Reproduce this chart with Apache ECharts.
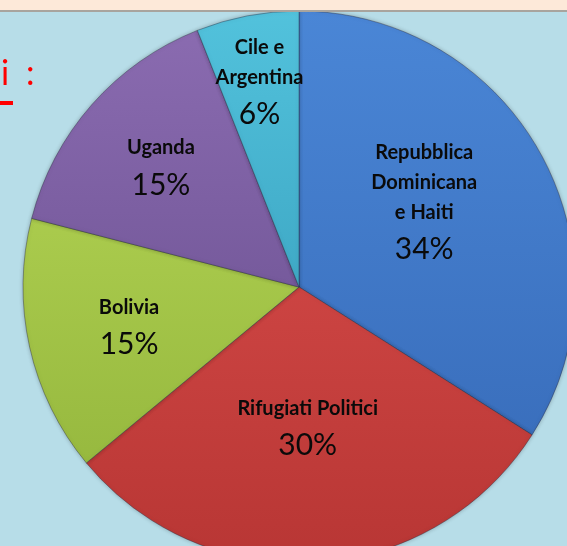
<!DOCTYPE html>
<html>
<head>
<meta charset="utf-8">
<script src="https://cdn.jsdelivr.net/npm/echarts@6/dist/echarts.min.js"></script>
<style>
html,body{margin:0;padding:0;background:#b7dde8;}
#c{width:567px;height:546px;}
</style>
</head>
<body>
<div id="c"></div>
<script>
// Data
var categories = ['Repubblica\nDominicana\ne Haiti', 'Rifugiati Politici', 'Bolivia', 'Uganda', 'Cile e\nArgentina'];
var values = [34, 30, 15, 15, 6];

// styling (not data)
var sliceColors = [
  ['#4a86d6', '#3a6fbd'],
  ['#cc4442', '#b83634'],
  ['#aacb4d', '#97b93f'],
  ['#8a6bb0', '#765a9c'],
  ['#52c2dc', '#3fa9c6']
];
var labelRadiusFrac = [0.555, 0.50, 0.63, 0.67, 0.77];
var labelAngleShift = [-6, 0, 0, 0, 0];
var labelDy = 5;
var cx = 299, cy = 287, R = 276;

var chart = echarts.init(document.getElementById('c'), null, {renderer: 'canvas'});

var data = categories.map(function (n, i) {
  return {
    name: n,
    value: values[i],
    itemStyle: {
      color: {
        type: 'linear', x: 0, y: 0, x2: 0, y2: 1,
        colorStops: [{offset: 0, color: sliceColors[i][0]}, {offset: 1, color: sliceColors[i][1]}]
      }
    }
  };
});

chart.setOption({
  backgroundColor: '#b7dde8',
  animation: false,
  graphic: [
    {type: 'rect', left: 0, top: 0, shape: {width: 567, height: 10}, style: {fill: '#fde9d9'}, z: 10},
    {type: 'rect', left: 0, top: 10, shape: {width: 567, height: 2}, style: {fill: '#a8a49e'}, z: 10},
    {type: 'text', left: 1, top: 57, style: {text: 'i', fill: '#ff0000', font: '34px Lato'}, z: 10},
    {type: 'text', left: 26, top: 57, style: {text: ':', fill: '#ff0000', font: '34px Lato'}, z: 10},
    {type: 'rect', left: 0, top: 101, shape: {width: 13, height: 4}, style: {fill: '#ff0000'}, z: 10}
  ],
  series: [{
    type: 'pie',
    center: [cx, cy],
    radius: [0, R],
    startAngle: 90,
    clockwise: true,
    data: data,
    itemStyle: {
      borderColor: 'rgba(40,40,60,0.4)',
      borderWidth: 1,
      shadowBlur: 4,
      shadowColor: 'rgba(0,0,0,0.25)'
    },
    emphasis: {disabled: true},
    labelLine: {show: false},
    label: {
      show: true,
      position: 'inside',
      formatter: function (p) {
        return '{n|' + p.name + '}\n{p|' + p.value + '%}';
      },
      color: '#000',
      rich: {
        n: {fontFamily: 'Lato', fontSize: 20, fontWeight: 'bold', lineHeight: 30, color: '#0a0a0a', align: 'center'},
        p: {fontFamily: 'Lato', fontSize: 30, lineHeight: 44, color: '#0a0a0a', align: 'center'}
      }
    },
    labelLayout: function (params) {
      var r = params.labelRect;
      var mx = r.x + r.width / 2, my = r.y + r.height / 2;
      var ang = Math.atan2(my - cy, mx - cx) + labelAngleShift[params.dataIndex] * Math.PI / 180;
      var f = labelRadiusFrac[params.dataIndex] * R;
      return {dx: cx + Math.cos(ang) * f - mx, dy: cy + Math.sin(ang) * f - my + labelDy};
    }
  }]
});
</script>
</body>
</html>
